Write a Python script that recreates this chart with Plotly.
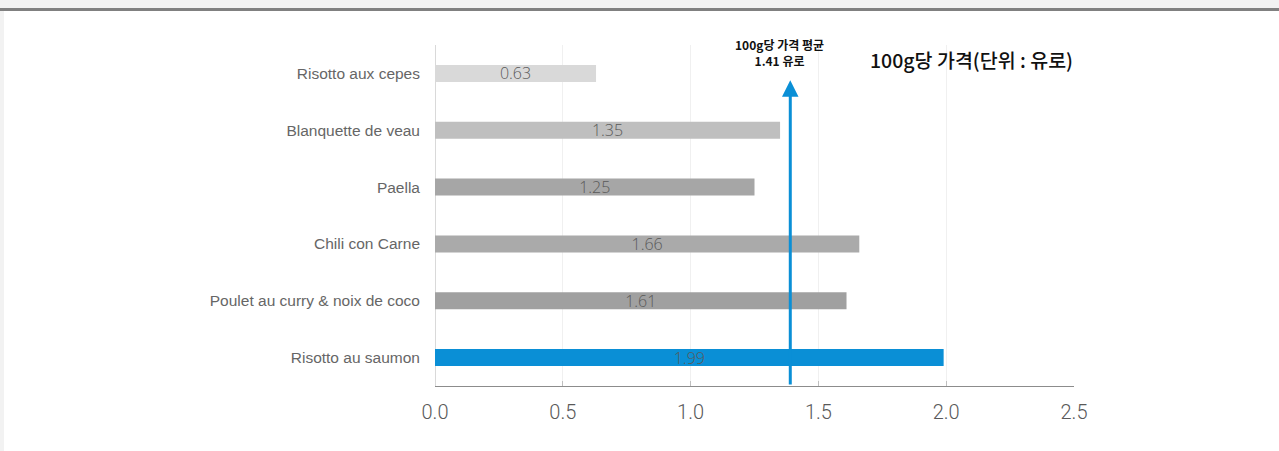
import plotly.graph_objects as go

# Data (listed bottom-to-top)
categories = ["Risotto au saumon", "Poulet au curry & noix de coco", "Chili con Carne",
              "Paella", "Blanquette de veau", "Risotto aux cepes"]
prices = [1.99, 1.61, 1.66, 1.25, 1.35, 0.63]
bar_colors = ["#0a8fd6", "#a0a0a0", "#aaaaaa", "#a6a6a6", "#bfbfbf", "#d9d9d9"]
avg_price = 1.41
avg_arrow_x = 1.39
x_ticks = [0.0, 0.5, 1.0, 1.5, 2.0, 2.5]
x_tick_labels = ["0.0", "0.5", "1.0", "1.5", "2.0", "2.5"]
avg_label = "100g당 가격 평균<br>1.41 유로"
title_text = "100g당 가격(단위 : 유로)"

fig = go.Figure()
fig.add_trace(go.Bar(
    y=categories, x=prices, orientation="h",
    marker=dict(color=bar_colors, line=dict(width=0)),
    width=0.3,
    text=[f"{v:.2f}" for v in prices],
    textposition="inside", insidetextanchor="middle",
    textfont=dict(family="Open Sans", size=16, color="#595959", weight=300),
    constraintext="none",
    hoverinfo="skip",
))

L, R, T, B = 435, 205, 45, 65
W, H = 1279, 451
pw, ph = W - L - R, H - T - B

def px_x(px):
    return (px - L) / pw

def px_y(py):
    return (H - B - py) / ph

shapes = [
    dict(type="rect", xref="paper", yref="paper",
         x0=px_x(4), x1=px_x(W + 5), y0=px_y(11), y1=px_y(H + 5),
         fillcolor="white", line=dict(width=0), layer="below"),
    dict(type="rect", xref="paper", yref="paper",
         x0=px_x(-5), x1=px_x(W + 5), y0=px_y(11), y1=px_y(8),
         fillcolor="#808080", line=dict(width=0), layer="below"),
]

annotations = [
    dict(x=avg_arrow_x, y=4.88, xref="x", yref="y",
         ax=avg_arrow_x, ay=-0.5, axref="x", ayref="y",
         showarrow=True, arrowhead=2, arrowsize=1.1, arrowwidth=3,
         arrowcolor="#0a8fd6", text=""),
    dict(x=px_x(779), y=px_y(34), xref="paper", yref="paper",
         text=avg_label, showarrow=False, align="center",
         font=dict(family="Noto Sans CJK KR", size=12, color="#111111", weight="bold")),
    dict(x=px_x(868), y=px_y(43), xref="paper", yref="paper",
         xanchor="left", text=title_text, showarrow=False,
         font=dict(family="Noto Sans CJK KR", size=19.5, color="#111111", weight=500)),
]

fig.update_layout(
    width=W, height=H,
    margin=dict(l=L, r=R, t=T, b=B, pad=0),
    paper_bgcolor="#f2f2f2", plot_bgcolor="white",
    showlegend=False,
    shapes=shapes, annotations=annotations,
    xaxis=dict(range=[0, 2.5], tickvals=x_ticks, ticktext=x_tick_labels,
               showgrid=True, gridcolor="#f0f0f0", gridwidth=1,
               zeroline=True, zerolinecolor="#d9d9d9", zerolinewidth=1,
               showline=True, linecolor="#8c8c8c", linewidth=1,
               ticks="inside", ticklen=5, tickcolor="#bfbfbf",
               ticklabelstandoff=8,
               tickfont=dict(family="Roboto", size=20, color="#595959", weight=300),
               fixedrange=True),
    yaxis=dict(range=[-0.5, 5.5], showgrid=False, ticks="", ticklabelstandoff=14,
               tickfont=dict(family="Liberation Sans, Arial", size=15.5, color="#666666"),
               fixedrange=True),
)

fig.write_html("out.html")
